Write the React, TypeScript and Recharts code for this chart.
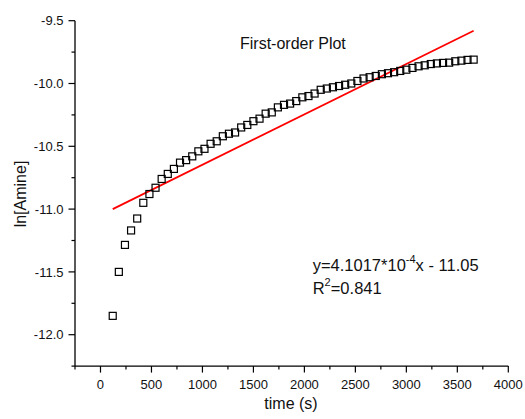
import React from 'react';
import { ScatterChart, Scatter, XAxis, YAxis } from 'recharts';

const times: number[] = [
  120, 180, 240, 300, 360, 420, 480, 540, 600, 660,
  720, 780, 840, 900, 960, 1020, 1080, 1140, 1200, 1260,
  1320, 1380, 1440, 1500, 1560, 1620, 1680, 1740, 1800, 1860,
  1920, 1980, 2040, 2100, 2160, 2220, 2280, 2340, 2400, 2460,
  2520, 2580, 2640, 2700, 2760, 2820, 2880, 2940, 3000, 3060,
  3120, 3180, 3240, 3300, 3360, 3420, 3480, 3540, 3600, 3660,
];

const lnAmine: number[] = [
  -11.85, -11.5, -11.285, -11.17, -11.075, -10.95, -10.88, -10.83, -10.76, -10.72,
  -10.68, -10.63, -10.61, -10.58, -10.54, -10.52, -10.48, -10.46, -10.42, -10.4,
  -10.39, -10.35, -10.33, -10.3, -10.28, -10.24, -10.23, -10.19, -10.17, -10.16,
  -10.14, -10.11, -10.1, -10.08, -10.05, -10.04, -10.03, -10.02, -10.01, -10.0,
  -9.98, -9.96, -9.95, -9.94, -9.926, -9.918, -9.91, -9.9, -9.89, -9.876,
  -9.863, -9.855, -9.845, -9.84, -9.836, -9.834, -9.823, -9.818, -9.812, -9.81,
];

const fitTimes: number[] = [120, 3660];
const fitValues: number[] = [-11.0, -9.58];

const xTicks: number[] = [-250, 0, 250, 500, 750, 1000, 1250, 1500, 1750, 2000, 2250, 2500, 2750, 3000, 3250, 3500, 3750, 4000];
const xLabelTicks: number[] = [0, 500, 1000, 1500, 2000, 2500, 3000, 3500, 4000];
const yTicks: number[] = [-12.25, -12.0, -11.75, -11.5, -11.25, -11.0, -10.75, -10.5, -10.25, -10.0, -9.75, -9.5];
const yLabelTicks: number[] = [-12.0, -11.5, -11.0, -10.5, -10.0, -9.5];

const chartTitle = 'First-order Plot';
const xTitle = 'time (s)';
const yTitle = 'ln[Amine]';

const points = times.map((t, i) => ({ t, v: lnAmine[i] }));
const fitLine = fitTimes.map((t, i) => ({ t, v: fitValues[i] }));

const FONT = '"Liberation Sans", Arial, sans-serif';

const XTick = (props: any) => {
  const { x, y, payload } = props;
  const major = xLabelTicks.includes(payload.value);
  return (
    <g>
      <line x1={x} y1={y} x2={x} y2={y + (major ? 6.5 : 3.5)} stroke="#000" strokeWidth={1.2} />
      {major && (
        <text x={x} y={y + 23} textAnchor="middle" fontSize={13} fontFamily={FONT} fill="#111">
          {String(payload.value)}
        </text>
      )}
    </g>
  );
};

const YTick = (props: any) => {
  const { x, y, payload } = props;
  const major = yLabelTicks.some((v) => Math.abs(v - payload.value) < 1e-9);
  return (
    <g>
      <line x1={x} y1={y} x2={x - (major ? 6.5 : 3.5)} y2={y} stroke="#000" strokeWidth={1.2} />
      {major && (
        <text x={x - 11.5} y={y + 4.6} textAnchor="end" fontSize={13} fontFamily={FONT} fill="#111">
          {payload.value.toFixed(1)}
        </text>
      )}
    </g>
  );
};

const SquareShape = (props: any) => {
  const { cx, cy } = props;
  if (cx == null || cy == null) return <g />;
  return <rect x={cx - 3.5} y={cy - 3.5} width={7} height={7} fill="none" stroke="#000" strokeWidth={1.2} />;
};

const NoShape = () => <g />;

export default function App() {
  return (
    <div style={{ position: 'absolute', left: 0, top: 0, width: 525, height: 419, background: '#fff' }}>
      <ScatterChart
        width={525}
        height={419}
        margin={{ top: 20.7, right: 16.7, bottom: 12.9, left: 15 }}
      >
        <XAxis
          type="number"
          dataKey="t"
          domain={[-250, 4000]}
          ticks={xTicks}
          interval={0}
          allowDataOverflow
          height={40}
          tickSize={0}
          tickMargin={0}
          tickLine={false}
          axisLine={{ stroke: '#000', strokeWidth: 1.3 }}
          tick={<XTick />}
        />
        <YAxis
          type="number"
          dataKey="v"
          domain={[-12.25, -9.5]}
          ticks={yTicks}
          interval={0}
          allowDataOverflow
          width={60}
          tickSize={0}
          tickMargin={0}
          tickLine={false}
          axisLine={{ stroke: '#000', strokeWidth: 1.3 }}
          tick={<YTick />}
        />
        <Scatter
          data={fitLine}
          line={{ stroke: '#ff0000', strokeWidth: 1.8 }}
          shape={<NoShape />}
          isAnimationActive={false}
        />
        <Scatter data={points} shape={<SquareShape />} isAnimationActive={false} />
        <text x={240} y={48.5} fontSize={16} fontFamily={FONT} fill="#111">
          {chartTitle}
        </text>
        <text x={312.7} y={270.7} fontSize={16.5} fontFamily={FONT} fill="#111">
          y=4.1017*10
          <tspan fontSize={11} dy={-8}>-4</tspan>
          <tspan dy={8}>x - 11.05</tspan>
        </text>
        <text x={312.7} y={294.3} fontSize={16.5} fontFamily={FONT} fill="#111">
          R
          <tspan fontSize={11} dy={-8}>2</tspan>
          <tspan dy={8}>=0.841</tspan>
        </text>
        <text x={291} y={409} textAnchor="middle" fontSize={16} fontFamily={FONT} fill="#111">
          {xTitle}
        </text>
        <text
          x={0}
          y={0}
          transform="translate(26, 194) rotate(-90)"
          textAnchor="middle"
          fontSize={16}
          fontFamily={FONT}
          fill="#111"
        >
          {yTitle}
        </text>
      </ScatterChart>
    </div>
  );
}
